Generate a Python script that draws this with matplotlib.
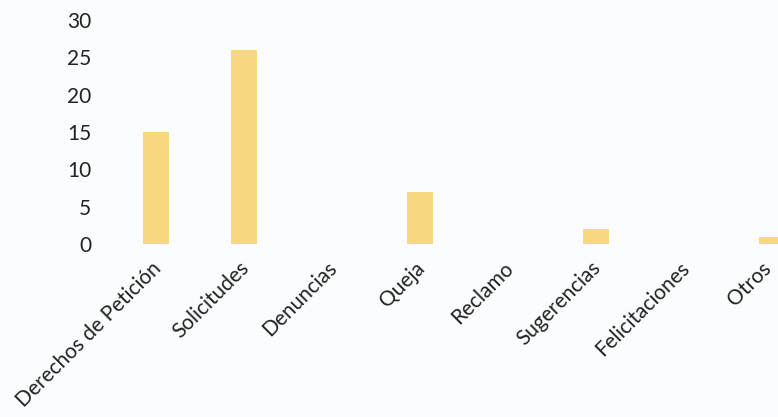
import matplotlib
matplotlib.use('Agg')
import matplotlib.pyplot as plt
from matplotlib.transforms import ScaledTranslation

# Data
CATEGORIES = ['Derechos de Petición', 'Solicitudes', 'Denuncias', 'Queja',
              'Reclamo', 'Sugerencias', 'Felicitaciones', 'Otros']
VALUES = [15, 26, 0, 7, 0, 2, 0, 1]
Y_TICKS = [0, 5, 10, 15, 20, 25, 30]

BAR_COLOR = '#F8D77E'
BG_COLOR = '#FBFCFD'

plt.rcParams['font.family'] = ['Lato', 'DejaVu Sans']

fig = plt.figure(figsize=(7.78, 4.17), dpi=100, facecolor=BG_COLOR)
ax = fig.add_axes([112 / 778, 173 / 417, 1 - 112 / 778, 224 / 417])
ax.set_facecolor(BG_COLOR)

x = range(len(CATEGORIES))
ax.bar(x, VALUES, width=0.3, color=BAR_COLOR)

ax.set_xlim(-0.5, 7.068)
ax.set_ylim(0, 30)
ax.set_yticks(Y_TICKS)
ax.set_xticks(list(x))
ax.set_xticklabels(CATEGORIES, rotation=45, ha='right', rotation_mode='anchor',
                   fontsize=15, color='#222222')
ax.tick_params(axis='y', labelsize=15, colors='#222222', length=0, pad=15)
ax.tick_params(axis='x', length=0, pad=10)
for spine in ax.spines.values():
    spine.set_visible(False)

# nudge the rotated labels a little left so "Otros" stays inside the figure
labels = ax.get_xticklabels()
for i, lbl in enumerate(labels):
    dx = -11 if i == len(labels) - 1 else -5
    lbl.set_transform(lbl.get_transform() + ScaledTranslation(dx / 100, 0, fig.dpi_scale_trans))

fig.savefig('out.png', dpi=100, facecolor=BG_COLOR)
